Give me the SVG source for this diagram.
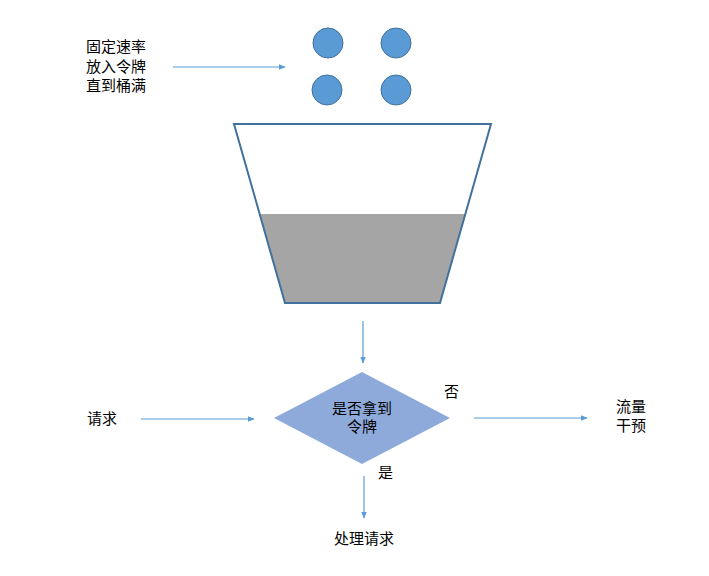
<svg xmlns="http://www.w3.org/2000/svg" width="709" height="576" viewBox="0 0 709 576">
<style>
text{font-family:"Liberation Sans","Noto Sans CJK SC",sans-serif;font-size:15px;fill:#000}
.tok{fill:#5b9bd5;stroke:#41719c;stroke-width:1}
.conn{stroke:#5b9bd5;stroke-width:1.2;fill:none;marker-end:url(#ah)}
</style>
<defs>
<marker id="ah" viewBox="0 0 10 10" refX="9" refY="5" markerWidth="7" markerHeight="7" markerUnits="userSpaceOnUse" orient="auto">
<path d="M0,1 L10,5 L0,9 z" fill="#5b9bd5"/>
</marker>
</defs>
<rect width="709" height="576" fill="#fff"/>
<g id="tokens">
<circle class="tok" cx="328" cy="43" r="15"/>
<circle class="tok" cx="396" cy="43" r="15"/>
<circle class="tok" cx="327" cy="90" r="15"/>
<circle class="tok" cx="396" cy="90" r="15"/>
</g>
<g id="source-label">
<text x="86" y="52">固定速率</text>
<text x="86" y="72">放入令牌</text>
<text x="86" y="91">直到桶满</text>
</g>
<g id="bucket">
<polygon points="259.6,214 465.4,214 440,303 285,303" fill="#a5a5a5"/>
<polygon points="234,124 491,124 440,303 285,303" fill="none" stroke="#41719c" stroke-width="2"/>
</g>
<g id="decision">
<polygon points="274,418 362,372 450,418 362,464" fill="#8eaadb"/>
<text x="362" y="414" text-anchor="middle">是否拿到</text>
<text x="362" y="432" text-anchor="middle">令牌</text>
</g>
<g id="request">
<text x="87" y="424">请求</text>
</g>
<g id="intervene">
<text x="616" y="412">流量</text>
<text x="616" y="431">干预</text>
</g>
<g id="process">
<text x="334" y="544">处理请求</text>
</g>
<g id="connectors">
<line class="conn" x1="173" y1="67" x2="285" y2="67"/>
<line class="conn" x1="363" y1="321" x2="363" y2="363"/>
<line class="conn" x1="141" y1="419" x2="254" y2="419"/>
<line class="conn" x1="474" y1="418" x2="587" y2="418"/>
<line class="conn" x1="364" y1="476" x2="364" y2="518"/>
<text x="444" y="397">否</text>
<text x="378" y="478">是</text>
</g>
</svg>
